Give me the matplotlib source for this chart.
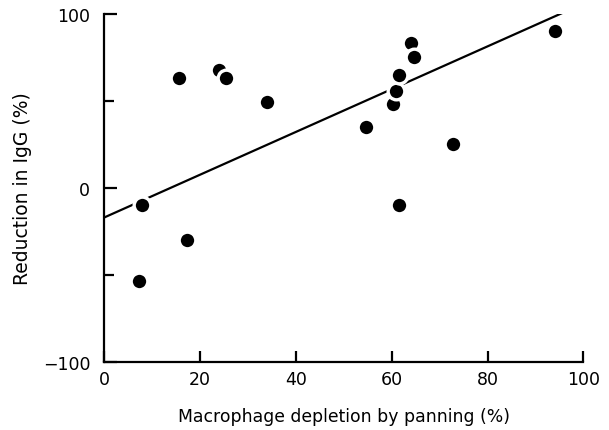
import numpy as np
import matplotlib
matplotlib.use("Agg")
import matplotlib.pyplot as plt

# macrophage depletion (%) vs reduction in IgG (%)
depletion = [7.2, 7.9, 15.7, 17.2, 24.0, 25.4, 34.0, 54.6, 60.2, 60.8,
             61.5, 61.6, 64.0, 64.6, 72.8, 94.1]
igg_reduction = [-53.8, -9.8, 63.4, -29.7, 68.2, 63.2, 49.5, 34.9, 48.4, 55.9,
                 -10.0, 65.1, 83.6, 75.3, 25.2, 90.3]

# regression line end points
fit_x = [0, 95.8]
fit_y = [-17, 101]

plt.rcParams['font.family'] = 'DejaVu Sans'

fig = plt.figure(figsize=(6.09, 4.31), dpi=100)
ax = fig.add_axes([0.171, 0.1585, 0.787, 0.806])

ax.plot(fit_x, fit_y, color='black', lw=1.6, solid_capstyle='butt', zorder=2)
ax.plot(depletion, igg_reduction, 'o', ms=12, mfc='black', mec='white',
        mew=2.4, zorder=3, clip_on=False)

ax.set_xlim(0, 100)
ax.set_ylim(-100, 100)
ax.set_xticks([0, 20, 40, 60, 80, 100])
ax.set_yticks([-100, 0, 100])
ax.set_yticks([-50, 50], minor=True)
ax.set_yticklabels(['\u2212100', '0', '100'])

for s in ['top', 'right']:
    ax.spines[s].set_visible(False)
for s in ['left', 'bottom']:
    ax.spines[s].set_linewidth(1.6)

ax.tick_params(axis='x', direction='in', length=8, width=1.6, pad=6, labelsize=12.5)
ax.tick_params(axis='y', which='major', direction='in', length=9, width=1.6, pad=10, labelsize=12.5)
ax.tick_params(axis='y', which='minor', direction='in', length=7, width=1.6)

ax.set_xlabel('Macrophage depletion by panning (%)', fontsize=12.4, labelpad=14)
ax.set_ylabel('Reduction in IgG (%)', fontsize=13.5, labelpad=8)

fig.savefig('out.png', dpi=100)
